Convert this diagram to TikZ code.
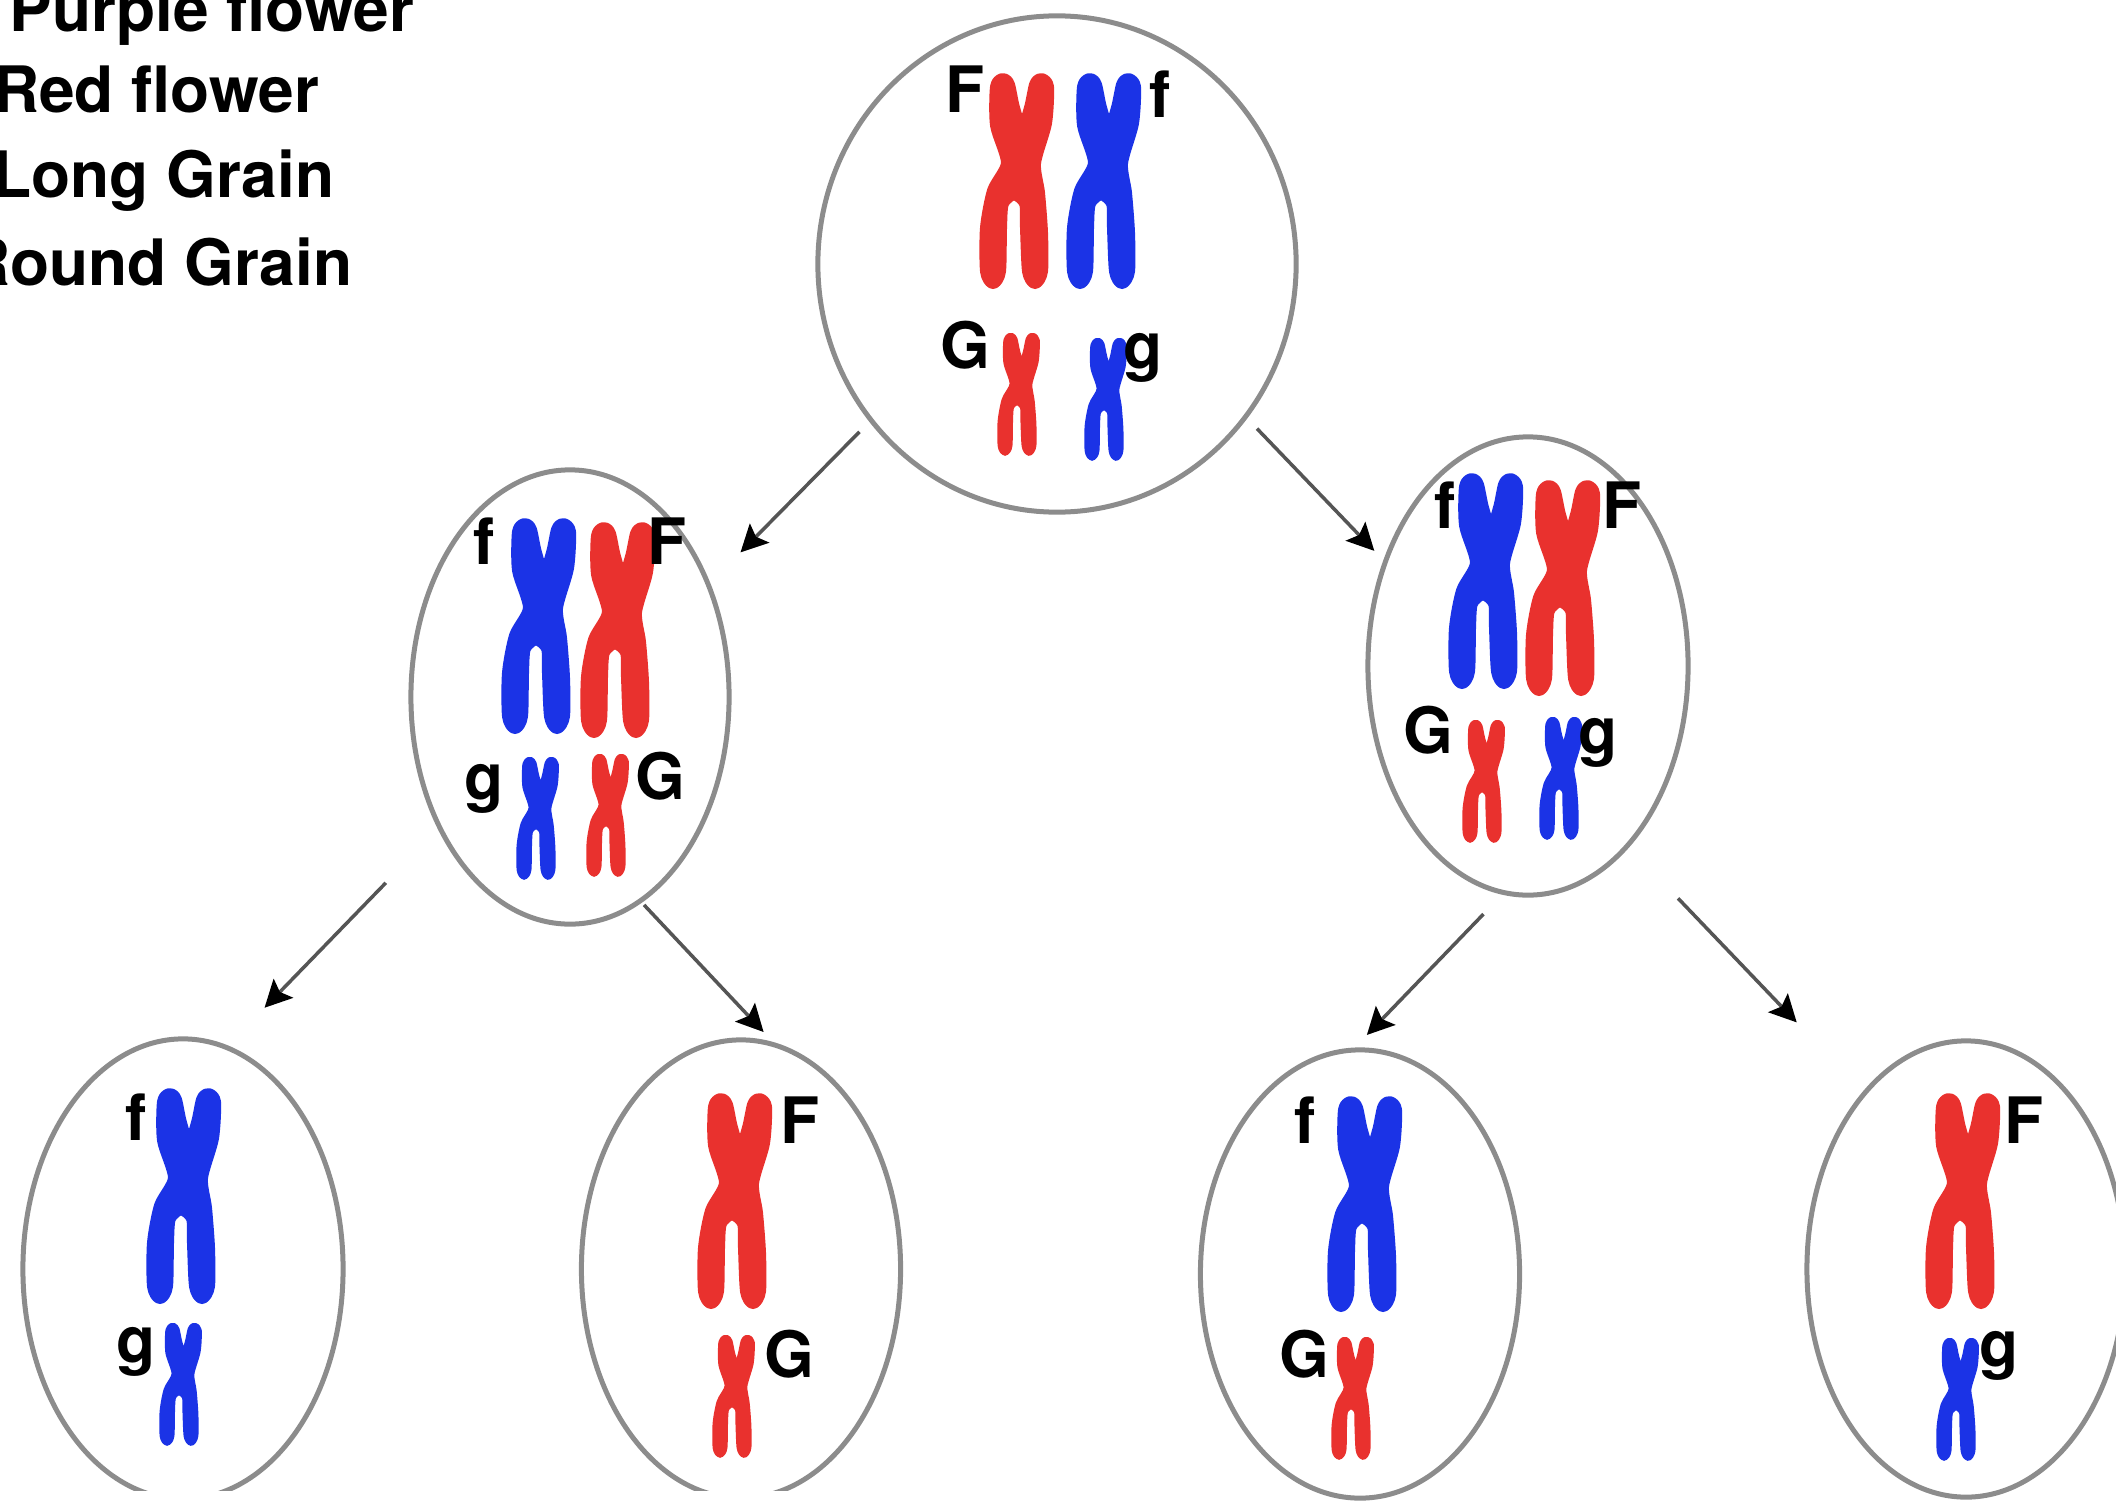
\documentclass[tikz,border=0pt]{standalone}
\usepackage{fontspec}
\setmainfont{TeX Gyre Heros}
\usetikzlibrary{shapes.geometric,arrows.meta}
\definecolor{chrred}{HTML}{E9312E}
\definecolor{chrblue}{HTML}{1B33E6}
\definecolor{cellrim}{HTML}{8C8C8C}
\definecolor{arrowgrey}{HTML}{555555}
\tikzset{
  cell/.style={draw=cellrim,line width=0.05cm,ellipse,inner sep=0pt,outer sep=0pt,minimum width=#1},
  allele/.style={font=\fontsize{18.2}{18.2}\selectfont\bfseries,text=black,anchor=base,inner sep=0pt},
  legend/.style={font=\fontsize{18.2}{18.2}\selectfont\bfseries,text=black,anchor=base east,inner sep=0pt},
  division/.style={draw=arrowgrey,line width=0.035cm,-{Stealth[length=0.27cm,width=0.27cm,inset=0.05cm,color=black,fill=black]}},
}
% One replicated chromosome: x, y of the centromere, colour, size factor.
% A thick round-joined outline around the core gives the arms blunt ends.
\newcommand{\chromo}[4]{%
  \begin{scope}[shift={(#1,#2)},scale=#4]
    \pgfmathsetmacro{\rimw}{0.14*#4}
    \filldraw[#3,line width=\rimw cm,line join=round] plot[smooth cycle,tension=0.45] coordinates {
      (-24,-76) (-18,-83) (-13,-78) (-8,-55) (1,-30) (10,-55) (15,-78) (20,-83) (26,-76) (24,-40)
      (13,0) (17,30) (20,70) (20,108) (14,119) (8,108) (6,65) (5,40) (-7,30) (-19,40)
      (-21,65) (-22,108) (-28,119) (-34,108) (-34,65) (-27,28) (-13,0) (-24,-38)};
  \end{scope}}
\begin{document}
\begin{tikzpicture}[x=0.01cm,y=-0.01cm]
\useasboundingbox (0,0) rectangle (2116,1500);
\clip (0,0) rectangle (2116,1500);

% Trait key
\node[legend] (k1) at (415,32) {Purple flower};
\node[legend] (k2) at (320,113) {Red flower};
\node[legend] (k3) at (335,197) {Long Grain};
\node[legend] (k4) at (353,285) {Round Grain};

% Cells
\node[cell=4.78cm,minimum height=4.96cm] (top) at (1057,264) {};
\node[cell=3.18cm,minimum height=4.54cm] (left) at (570,697) {};
\node[cell=3.2cm,minimum height=4.58cm] (right) at (1528,666) {};
% The two left-hand gametes stop short of the lower edge
\begin{scope}
  \clip (0,0) rectangle (1000,1490);
  \node[cell=3.2cm,minimum height=4.6cm] (g1) at (183,1269) {};
  \node[cell=3.19cm,minimum height=4.58cm] (g2) at (741,1269) {};
\end{scope}
\node[cell=3.19cm,minimum height=4.48cm] (g3) at (1360,1274) {};
\node[cell=3.18cm,minimum height=4.56cm] (g4) at (1966,1269) {};

% Parent cell
\chromo{1021}{163}{chrred}{1}
\chromo{1108}{163}{chrblue}{1}
\chromo{1021}{384}{chrred}{0.57}
\chromo{1108}{389}{chrblue}{0.57}
\node[allele] (a1) at (965,113) {F};
\node[allele] (a2) at (1160,117) {f};
\node[allele] (a3) at (965,368) {G};
\node[allele] (a4) at (1143,368) {g};

% Left daughter
\chromo{543}{608}{chrblue}{1}
\chromo{622}{612}{chrred}{1}
\chromo{540}{808}{chrblue}{0.57}
\chromo{610}{805}{chrred}{0.57}
\node[allele] (b1) at (484,564) {f};
\node[allele] (b2) at (667,564) {F};
\node[allele] (b3) at (484,799) {g};
\node[allele] (b4) at (660,799) {G};

% Right daughter
\chromo{1490}{563}{chrblue}{1}
\chromo{1567}{570}{chrred}{1}
\chromo{1486}{771}{chrred}{0.57}
\chromo{1563}{768}{chrblue}{0.57}
\node[allele] (c1) at (1445,528) {f};
\node[allele] (c2) at (1622,528) {F};
\node[allele] (c3) at (1428,753) {G};
\node[allele] (c4) at (1598,753) {g};

% Gametes
\chromo{188}{1178}{chrblue}{1}
\chromo{183}{1374}{chrblue}{0.57}
\node[allele] (d1) at (136,1140) {f};
\node[allele] (d2) at (136,1362) {g};

\chromo{739}{1183}{chrred}{1}
\chromo{736}{1386}{chrred}{0.57}
\node[allele] (e1) at (800,1143) {F};
\node[allele] (e2) at (789,1377) {G};

\chromo{1369}{1186}{chrblue}{1}
\chromo{1355}{1388}{chrred}{0.57}
\node[allele] (h1) at (1305,1143) {f};
\node[allele] (h2) at (1304,1377) {G};

\chromo{1967}{1183}{chrred}{1}
\chromo{1960}{1389}{chrblue}{0.57}
\node[allele] (i1) at (2024,1143) {F};
\node[allele] (i2) at (1999,1366) {g};

% Division arrows
\draw[division,shorten <=4.7pt,shorten >=13pt] (top.220.7) -- (left.39.3);
\draw[division,shorten <=4.7pt,shorten >=4.5pt] (top.-39.5) -- (right.144);
\draw[division,shorten <=22pt,shorten >=15.7pt] (left.225.2) -- (g1.79.1);
\draw[division,shorten <=1.6pt,shorten >=5.3pt] (left.-71.7) -- (g2.81.3);
\draw[division,shorten <=8.5pt,shorten >=6pt] (right.264.2) -- (g3.92);
\draw[division,shorten <=20.8pt,shorten >=27.9pt] (right.-61.6) -- (g4.120.1);
\end{tikzpicture}
\end{document}
